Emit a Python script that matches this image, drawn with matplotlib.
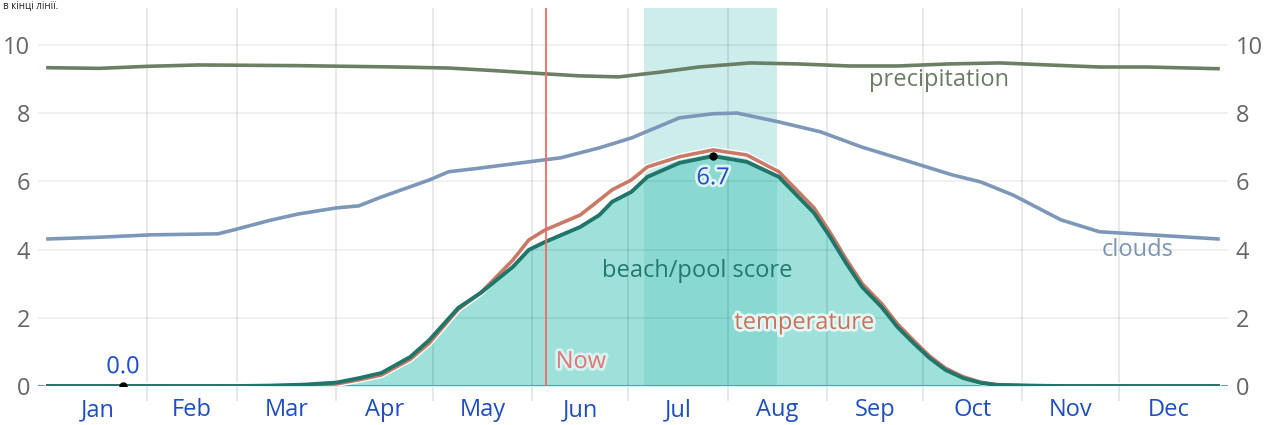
import matplotlib.pyplot as plt
import matplotlib.patheffects as pe

plt.rcParams['font.family'] = ['Open Sans', 'DejaVu Sans']

# day of year -> value
prec_days = [0, 16, 31, 47, 78, 109, 125, 140, 155, 166, 178, 191, 203, 219, 234, 250, 265, 281, 297, 312, 328, 343, 365]
precipitation = [9.33, 9.31, 9.37, 9.41, 9.39, 9.35, 9.32, 9.24, 9.15, 9.09, 9.06, 9.20, 9.35, 9.47, 9.44, 9.38, 9.38, 9.44, 9.47, 9.41, 9.35, 9.35, 9.30]

cloud_days = [0, 16, 32, 53, 59, 69, 78, 90, 97, 104, 119, 125, 135, 150, 160, 172, 182, 197, 207.5, 215, 228, 241, 254, 270, 282, 291, 301, 316, 328, 344, 365]
clouds = [4.31, 4.36, 4.43, 4.46, 4.60, 4.85, 5.04, 5.22, 5.28, 5.54, 6.04, 6.28, 6.39, 6.57, 6.69, 6.98, 7.27, 7.86, 7.98, 8.00, 7.74, 7.45, 7.00, 6.54, 6.19, 5.98, 5.60, 4.87, 4.52, 4.43, 4.31]

score_days = [0, 60, 69, 80, 90, 97, 104, 113, 119, 128, 135, 145, 150, 155, 166, 172, 176, 182, 187, 197, 207.5, 218, 228, 239, 244, 249, 254, 260, 265, 270, 275, 280, 285.5, 291, 296, 306, 315, 365]
beach_score = [0, 0, 0.01, 0.04, 0.10, 0.23, 0.38, 0.85, 1.35, 2.29, 2.73, 3.49, 3.99, 4.22, 4.66, 5.01, 5.40, 5.69, 6.13, 6.54, 6.74, 6.57, 6.13, 5.07, 4.37, 3.60, 2.90, 2.32, 1.73, 1.26, 0.82, 0.47, 0.23, 0.09, 0.03, 0.01, 0, 0]
temperature = [0, 0, 0, 0.02, 0.06, 0.18, 0.32, 0.78, 1.26, 2.25, 2.73, 3.69, 4.28, 4.57, 5.01, 5.45, 5.75, 6.04, 6.42, 6.72, 6.92, 6.77, 6.28, 5.22, 4.50, 3.72, 3.00, 2.42, 1.82, 1.34, 0.88, 0.52, 0.27, 0.11, 0.04, 0.01, 0, 0]

months = ['Jan', 'Feb', 'Mar', 'Apr', 'May', 'Jun', 'Jul', 'Aug', 'Sep', 'Oct', 'Nov', 'Dec']
month_starts = [0, 31, 59, 90, 120, 151, 181, 212, 243, 273, 304, 334, 365]
now_day = 155.4
band = (186, 227.5)
min_point = (23.4, 0.0)
max_point = (207.5, 6.74)

fig = plt.figure(figsize=(12.74, 4.25), dpi=100)
ax = fig.add_axes([0.0301, 0.0918, 0.9335, 0.8894])
ax.set_xlim(-3, 368)
ax.set_ylim(0, 11.08)

# highlighted period and filled score
ax.axvspan(band[0], band[1], color='#b3e3e3', alpha=0.65, lw=0, zorder=0)
ax.fill_between(score_days, beach_score, 0, color='#5ccdc2', alpha=0.6, lw=0, zorder=1)

for y in range(0, 11, 2):
    ax.axhline(y, color='black', alpha=0.07, lw=1.2, zorder=2)
for d in month_starts[1:-1]:
    ax.axvline(d, color='black', alpha=0.1, lw=1.2, zorder=2)

ax.plot(prec_days, precipitation, color='#6b7f64', lw=2.6, zorder=4)
ax.plot(cloud_days, clouds, color='#7d97b8', lw=2.6, zorder=4)
ax.plot(score_days, temperature, color='#c97a66', lw=2.6, zorder=5,
        path_effects=[pe.Stroke(linewidth=4.5, foreground='white'), pe.Normal()])
ax.plot(score_days, beach_score, color='#21766a', lw=2.8, zorder=6)
ax.axhline(0, color='#3bb3a8', lw=1.5, zorder=3)

ax.axvline(now_day, color='#f06a6a', lw=1.3, zorder=7)

halo = [pe.withStroke(linewidth=4, foreground='white', alpha=0.6)]
ax.text(now_day + 3, 0.35, 'Now', color='#e07878', fontsize=17, ha='left', va='bottom', path_effects=halo, zorder=8)
ax.text(278, 8.97, 'precipitation', color='#6b7d62', fontsize=17, ha='center', va='center', zorder=8)
ax.text(340, 3.99, 'clouds', color='#7d95b5', fontsize=17, ha='center', va='center', zorder=8)
ax.text(202.5, 3.37, 'beach/pool score', color='#24786e', fontsize=17, ha='center', va='center', zorder=8)
ax.text(236, 1.85, 'temperature', color='#c9735c', fontsize=17, ha='center', va='center',
        path_effects=[pe.withStroke(linewidth=4, foreground='#e4f6f4')], zorder=8)

ax.plot(*min_point, 'o', color='black', ms=5, zorder=9)
ax.plot(*max_point, 'o', color='black', ms=5, zorder=9)
ax.text(min_point[0], min_point[1] + 0.2, f'{min_point[1]:.1f}', color='#1f4fc9', fontsize=17,
        ha='center', va='bottom', path_effects=halo, zorder=9)
ax.text(max_point[0], max_point[1] - 0.3, f'{max_point[1]:.1f}', color='#1f4fc9', fontsize=17,
        ha='center', va='top', path_effects=[pe.withStroke(linewidth=4, foreground='#dff3f3')], zorder=9)

for s in ax.spines.values():
    s.set_visible(False)

ax.set_xticks(month_starts[1:-1])
ax.set_xticklabels([])
ax.tick_params(axis='x', which='major', length=11, color='#e3e3e3', width=1.2)
mids = [(month_starts[i] + month_starts[i + 1]) / 2 for i in range(12)]
ax.set_xticks(mids, minor=True)
ax.set_xticklabels(months, minor=True)
ax.tick_params(axis='x', which='minor', length=0, labelsize=17, labelcolor='#1e4fc2', pad=9)

ax.set_yticks(range(0, 11, 2))
ax.tick_params(axis='y', length=0, labelsize=17, labelcolor='#666666', pad=6,
               left=True, right=True, labelleft=True, labelright=True)

# fragment of the page text above the chart
fig.text(0.002, 0.998, 'в кінці лінії.', fontsize=7, color='#222222', ha='left', va='top')

fig.savefig('out.png', dpi=100)
